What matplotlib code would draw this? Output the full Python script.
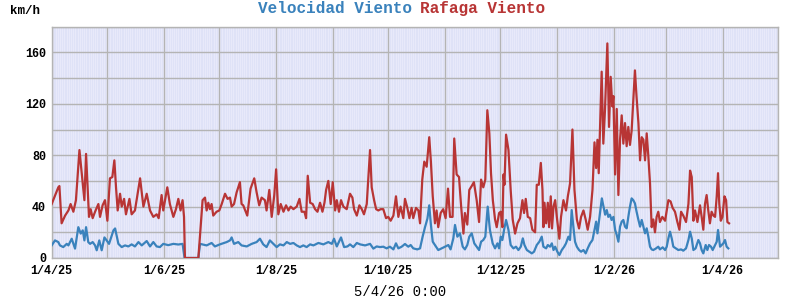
import matplotlib
matplotlib.use("Agg")
import matplotlib.pyplot as plt
import matplotlib.dates as mdates
import numpy as np
import pandas as pd

# Data (days counted from 1/4/25, km/h)
start = pd.Timestamp("2025-04-01")

gust_day = [0, 3.6, 4.2, 5.4, 7.3, 9.1, 10.3, 11.8, 13.2, 15.1, 17.8, 18.7, 20.3, 21.2, 22.3, 23.6,
            25.4, 26.3, 27.7, 29, 30.3, 31.7, 33, 34.1, 35, 35.9, 37.2, 38.1, 39.4, 40.4, 42.3, 43.5,
            45.3, 48.1, 49.9, 51.7, 53.5, 55.3, 57.1, 58.2, 59.8, 60.7, 62.9, 64.3, 66.2, 67.6, 68.9,
            70.1, 71.2, 72, 72.5, 79.8, 82.1, 83.4, 84.3, 85.2, 86.1, 87, 87.9, 89.7, 91.2, 92.5, 94.3,
            95.7, 97, 97.9, 99.2, 100.6, 102.4, 103.3, 104.2, 106.4, 108.2, 110.2, 111.5, 112.9, 114.2,
            116, 116.9, 118.4, 119.7, 121.1, 122.1, 123.3, 124.6, 126.1, 127.5, 128.8, 130, 131.5,
            133.3, 134.8, 136, 137.5, 138.4, 139.3, 140.6, 142, 143.3, 144.6, 146, 147.3, 148.4, 149.3,
            150.5, 151.8, 152.9, 154.2, 155.1, 156.3, 157.4, 158.7, 160.5, 162.3, 163.6, 164.5, 166,
            167.4, 168.7, 169.9, 171.4, 173.2, 174.1, 175.4, 176.5, 177.7, 179, 180.4, 181.9, 183.1,
            184.4, 185.9, 187.3, 188.6, 189.8, 191.3, 192.2, 193.5, 194.6, 195.8, 196.7, 198.2, 199.5,
            200.4, 201.6, 202.7, 204, 205.4, 206.3, 207.3, 208.5, 209.4, 210.3, 211.6, 213, 214.3,
            215.6, 216.7, 218.1, 219, 220.3, 221.6, 222.7, 224, 224.8, 226.1, 227.2, 228.5, 229.7,
            231.2, 232.5, 233.6, 234.8, 235.9, 237, 238.1, 239, 240, 241.2, 242.1, 243.4, 244.3, 245.2,
            245.8, 246.3, 247.2, 248.5, 249.7, 250.8, 252.1, 253.4, 254.8, 256.1, 257, 257.9, 259,
            260.3, 261.5, 263, 263.9, 265, 266.1, 267, 267.5, 268.1, 269, 269.9, 270.6, 271.5, 272.2,
            273, 273.9, 274.8, 276.2, 277.1, 278.4, 279.8, 280.8, 282, 283.3, 284.4, 285.7, 286.9, 288,
            289.3, 290.5, 291.6, 292.9, 294.2, 295.3, 296.2, 296.9, 297.6, 298.3, 299.2, 300.1, 301,
            302.3, 303.2, 304.1, 305, 305.6, 306.5, 307.4, 308.3, 309.2, 310.1, 311, 311.9, 312.8,
            313.7, 314.6, 315.5, 316.4, 317.3, 318.2, 319.2, 320.1, 321, 321.9, 322.8, 323.7, 324.6,
            325.5, 326.4, 327.3, 328.2, 329.1, 330, 330.9, 332.2, 333.7, 335.5, 336.7, 337.8, 339.1,
            340.4, 341.5, 342.4, 343.6, 345.1, 346.4, 347.3, 348.2, 349.1, 350, 351.3, 352.7, 353.6,
            354.5, 355.4, 356.3, 357.2, 358.1, 359, 360, 360.9, 361.8, 362.5, 363.2, 364, 364.9, 366,
            366.9, 367.6, 368.5]
gust_val = [42, 55, 56, 27, 33, 37, 42, 36, 45, 84, 45, 81, 32, 38, 31, 36,
            42, 32, 41, 45, 29, 62, 63, 76, 55, 37, 50, 40, 46, 34, 46, 34,
            37, 62, 40, 50, 37, 32, 34, 31, 49, 37, 55, 42, 32, 38, 46,
            37, 45, 32, 0, 0, 45, 47, 37, 43, 38, 42, 33, 36, 37, 42, 50,
            46, 47, 40, 42, 51, 59, 42, 41, 33, 54, 62, 51, 41, 47,
            45, 37, 53, 32, 49, 69, 34, 42, 36, 41, 37, 40, 38,
            40, 46, 36, 36, 31, 64, 43, 42, 38, 36, 43, 36, 43, 53,
            60, 42, 59, 37, 45, 36, 45, 40, 38, 50, 47, 38, 33,
            41, 38, 34, 42, 84, 55, 45, 38, 37, 38, 38, 31, 32,
            29, 33, 48, 32, 40, 31, 46, 39, 31, 39, 31, 39, 37,
            27, 61, 75, 71, 94, 75, 48, 27, 37, 24, 35, 38, 31,
            54, 32, 32, 93, 65, 63, 41, 19, 35, 26, 53, 56, 59,
            45, 28, 61, 55, 61, 115, 97, 66, 45, 30, 24, 35, 36, 24,
            65, 57, 96, 84, 53, 30, 19, 27, 31, 45, 35, 46, 32,
            31, 22, 20, 57, 57, 74, 53, 24, 43, 27, 43, 24, 48, 23,
            40, 45, 32, 15, 32, 45, 37, 48, 58, 100, 53, 30, 23, 32,
            37, 30, 22, 32, 53, 90, 70, 92, 66, 100, 145, 89, 115,
            167, 102, 141, 118, 126, 65, 116, 49, 92, 111, 89, 105, 87,
            102, 88, 99, 123, 146, 125, 105, 76, 94, 92, 76, 97, 79,
            58, 24, 30, 20, 32, 36, 28, 32, 29, 45, 44, 39, 36,
            28, 22, 36, 33, 28, 42, 68, 63, 29, 37, 28, 41, 32,
            22, 42, 49, 37, 27, 36, 33, 32, 48, 66, 42, 29, 32, 48,
            45, 28, 27]

wind_day = [0, 1.8, 3.6, 4.5, 6.3, 8.2, 9.1, 10.9, 12.7, 14.5, 15.8, 16.9, 17.8, 18.7, 19.9, 20.9,
            22.3, 23.6, 24.5, 25.9, 27.2, 28.7, 29.9, 31.2, 33.6, 34.5, 36.3, 38.1, 39.9, 41.7, 43.5,
            45.3, 47.2, 49, 51.7, 53.5, 55.3, 57.1, 58.9, 60.7, 63.4, 66.2, 68.9, 71.2, 72.3, 79.8,
            80.7, 84.3, 87, 88.8, 91.5, 95.2, 97, 97.9, 99.2, 101.5, 103.3, 106.1, 108.8, 111.5, 113.3,
            115.1, 116.9, 118.7, 120.6, 122.4, 124.2, 126.1, 127.9, 129.7, 131.5, 133.3, 135.1, 136.9,
            138.7, 140.6, 142.4, 145.1, 147.8, 150.5, 152.4, 153.6, 155.1, 157.4, 159.1, 160.9, 162.3,
            164.1, 166, 167.8, 170.5, 173.2, 175, 176.8, 178.6, 180.4, 182.2, 184, 185.9, 187.3,
            188.6, 190.4, 192.2, 194, 195.3, 196.7, 198.9, 200.4, 201.8, 203.1, 204.4, 205.4, 206.3,
            207.3, 208.5, 210.3, 212.2, 214, 215.8, 217, 218.5, 219.4, 220.7, 222.1, 223.6, 224.8,
            226.1, 227.2, 228.5, 229.9, 231.2, 232.5, 233.6, 234.8, 235.9, 237.2, 238.4, 239.9, 241.2,
            242.5, 243.4, 244.3, 245.2, 246.1, 247.2, 248.5, 249.7, 251.2, 252.6, 253.9, 255.2, 256.3,
            257.2, 258.5, 259.9, 261.2, 262.4, 263.9, 265.3, 266.6, 267.5, 269, 269.9, 271.1, 272.1,
            273, 273.9, 275.1, 276.2, 277.5, 278.8, 279.8, 281.1, 282, 282.9, 283.8, 284.7, 285.7,
            286.9, 288, 289.3, 290.5, 291.6, 292.9, 294.2, 295.3, 296.2, 296.9, 298, 299.3, 300.2,
            301.1, 302, 302.8, 303.7, 304.6, 305.6, 306.5, 307.4, 308.3, 309.2, 310.1, 311, 311.9,
            312.8, 313.7, 314.6, 315.5, 316.4, 317.3, 318.2, 319.2, 320.1, 321, 321.9, 322.8, 323.7,
            324.6, 325.5, 326.4, 327.3, 328.8, 330, 330.9, 332.4, 333.7, 334.6, 335.5, 336.4, 337.3,
            338.2, 339.6, 340.9, 342.4, 343.6, 345.1, 346.4, 347.3, 348.2, 349.1, 350.3, 351.8, 352.7,
            353.6, 354.5, 355.8, 356.7, 357.6, 358.7, 359.6, 360.9, 361.8, 362.5, 363.6, 364.5, 365.4,
            366.3, 367.2, 368.1]
wind_val = [9.8, 13.7, 12.4, 9.8, 8.5, 11, 9.8, 15, 7.3, 24, 19, 21.5, 13.7, 24, 12.4, 11,
            12.4, 9.8, 6, 13.7, 6, 16, 13.7, 11, 21.5, 23, 11, 8.5, 9.8, 9, 10.6,
            9, 12.4, 9.8, 13.2, 9, 12.4, 9, 8.5, 11, 10, 11, 10.5, 11, 0, 0,
            11, 9.8, 11.7, 9, 10.6, 12.4, 13.7, 16, 11, 12.4, 9.8, 9, 11, 12.4, 15,
            10.6, 8.5, 13.7, 11, 8.5, 10.6, 9.8, 12.4, 11, 11.7, 9.8, 8.5, 9.8,
            8.5, 10.6, 9.8, 11.7, 10.6, 12.4, 11, 15, 9, 16, 8.5, 9, 10.6,
            8.5, 11.7, 10.6, 9.8, 11, 7.3, 9, 8.5, 8.8, 7.5, 8.8, 6.7, 11.4,
            7.5, 8.8, 10.9, 8.8, 10.1, 7.5, 6.7, 7.5, 16.6, 24, 30.6, 41, 26,
            12.7, 10.1, 6.2, 7.5, 8.8, 10.1, 6.7, 15.3, 25.7, 16.6, 19.2, 8.8, 6.7,
            10.1, 16.6, 19.2, 11.4, 8.8, 6.2, 12.7, 14, 16.6, 40, 21.8, 11.4, 7.5,
            11.4, 7.5, 16.6, 14, 21.8, 29.6, 21.8, 10.1, 7.5, 8.8, 6.2, 8.8, 15.3,
            10.1, 6.2, 4.9, 3.6, 4.9, 10.1, 12.7, 16.6, 8.8, 7.5, 10.1, 8.8, 11.4,
            6.2, 8.8, 4.9, 2.3, 6.2, 8.8, 11.4, 16.6, 14, 37.3, 24.4, 12.7, 8.8,
            6.2, 4.9, 6.2, 3.6, 7.5, 11.4, 14, 21.8, 28.3, 19.2, 31.4, 46.4, 40,
            33.7, 37.3, 32, 33.7, 29.6, 32, 22, 18, 12.7, 24.4, 28.3, 29.6, 24.4,
            23.1, 32, 40, 46.4, 45, 42.5, 36, 29.6, 24.4, 29.6, 24.4, 19.2, 23.1,
            16.6, 8.8, 6.7, 6.2, 7.5, 8.8, 6.7, 8.3, 6.2, 8.8, 15.3, 20.5, 15.3,
            8.8, 7.5, 6.2, 6.7, 5.7, 7.5, 14, 20.5, 15.3, 6.2, 7.5, 14, 11.4,
            6.2, 3.6, 10.1, 6.2, 10.1, 8.8, 6.2, 10.1, 12.7, 21.8, 8.8, 10.1, 11.4,
            14, 8.8, 7.5]

tick_dates = ["2025-04-01", "2025-06-01", "2025-08-01", "2025-10-01",
              "2025-12-01", "2026-02-01", "2026-04-01"]
stamp = "5/4/26 0:00"

gust_t = start + pd.to_timedelta(gust_day, unit="D")
wind_t = start + pd.to_timedelta(wind_day, unit="D")

plt.rcParams["font.family"] = ["Liberation Mono", "DejaVu Sans Mono"]

fig = plt.figure(figsize=(8, 3), dpi=100)
ax = fig.add_axes([0.0646, 0.14, 0.9076, 0.771])
ax.set_facecolor("#e8e9fa")

ax.plot(wind_t, wind_val, color="#3a82bc", lw=1.6, zorder=3)
ax.plot(gust_t, gust_val, color="#b83535", lw=1.6, zorder=4)

ax.set_xlim(start, pd.Timestamp("2026-05-01"))
ax.set_ylim(0, 180)

# daily stripes + monthly / 20 km/h grid
ax.xaxis.set_minor_locator(mdates.DayLocator())
ax.grid(which="minor", axis="x", color="#dcdff6", lw=0.5, zorder=0)
months = pd.date_range(start, "2026-05-01", freq="MS")
ticks = pd.to_datetime(tick_dates)
ax.set_xticks(list(months))
ax.set_xticklabels([f"{d.day}/{d.month}/{d.year % 100}" if d in ticks else "" for d in months])
ax.set_yticks(np.arange(0, 181, 20))
ax.set_yticklabels([str(v) if v % 40 == 0 else "" for v in range(0, 181, 20)])
ax.grid(which="major", color="#b4b4b4", lw=1.0, zorder=1)
ax.set_axisbelow(True)

ax.tick_params(which="both", length=0, labelsize=8.5)
ax.tick_params(axis="y", pad=4)
ax.tick_params(axis="x", pad=5)
for lab in ax.get_xticklabels() + ax.get_yticklabels():
    lab.set_fontweight("bold")

for s in ax.spines.values():
    s.set_color("#b4b4b4")
    s.set_linewidth(1.0)

fig.text(0.013, 0.963, "km/h", fontsize=9, fontweight="bold", va="center", ha="left")
fig.text(0.515, 0.972, "Velocidad Viento", color="#3a82bc", fontsize=11.5, fontweight="bold",
         ha="right", va="center")
fig.text(0.525, 0.972, "Rafaga Viento", color="#b83535", fontsize=11.5, fontweight="bold",
         ha="left", va="center")
fig.text(0.5, 0.027, stamp, fontsize=10, ha="center", va="center")

fig.savefig("out.png", dpi=100)
